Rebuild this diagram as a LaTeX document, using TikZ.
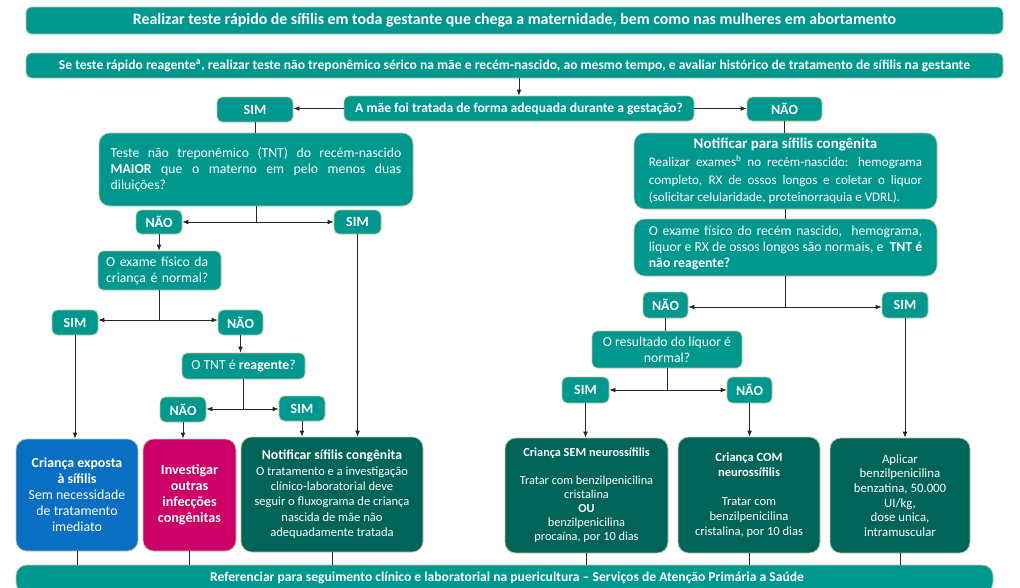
\documentclass[tikz,border=0pt]{standalone}
\usepackage{fontspec}
\setmainfont{Carlito}
\usetikzlibrary{arrows.meta}
\definecolor{teal1}{HTML}{00978F}
\definecolor{dkgreen}{HTML}{006459}
\definecolor{blue1}{HTML}{0A6FC2}
\definecolor{mag1}{HTML}{CC0066}
\definecolor{bord}{HTML}{B8CC96}
\begin{document}
\begin{tikzpicture}[x=0.75pt,y=-0.75pt,
  tbox/.style={fill=teal1, draw=bord, line width=0.6pt, rounded corners=4pt, text=white, inner sep=0pt, align=center},
  corners/.style n args={4}{minimum width={(#3-#1)*0.75pt}, minimum height={(#4-#2)*0.75pt}, at={({(#1+#3)/2},{(#2+#4)/2})}},
  big/.style={rounded corners=8pt},
  small/.style={font=\bfseries\fontsize{10.5}{12}\selectfont},
  body/.style={font=\fontsize{10.3}{12}\selectfont},
  ln/.style={draw=black!85, line width=0.6pt},
  arr/.style={ln, -{Latex[length=4.5pt,width=3.6pt]}},
]
\useasboundingbox (0,0) rectangle (1020,587);
\clip (0,0) rectangle (1020,587);

% top
\node[tbox, corners={26}{7}{1003}{34}, font=\bfseries\fontsize{11.9}{13}\selectfont] (t1) {Realizar teste rápido de sífilis em toda gestante que chega a maternidade, bem como nas mulheres em abortamento};
\node[tbox, corners={26}{53}{1003}{78}, font=\bfseries\fontsize{10.2}{12}\selectfont] (t2) {Se teste rápido reagente\textsuperscript{a}, realizar teste não treponêmico sérico na mãe e recém-nascido, ao mesmo tempo, e avaliar histórico de tratamento de sífilis na gestante};
\node[tbox, corners={344}{96}{694}{121}, font=\bfseries\fontsize{10.2}{12}\selectfont] (q) {A mãe foi tratada de forma adequada durante a gestação?};
\node[tbox, small, corners={217}{97}{293}{122}] (sim1) {SIM};
\node[tbox, small, corners={747}{97}{822}{121}] (nao1) {NÃO};

% left branch
\node[tbox, big, body, corners={99}{133}{413}{206}, text width=218pt, align=justify] (tnt1) {Teste não treponêmico (TNT) do recém-nascido\linebreak \textbf{MAIOR} que o materno em pelo menos duas\linebreak diluições?};
\node[tbox, small, corners={136}{210}{182}{234}] (nao2) {NÃO};
\node[tbox, small, corners={334}{210}{381}{234}] (sim2) {SIM};
\node[tbox, body, corners={98}{251}{221}{290}, text width=80pt, align=left] (ex1) {O exame físico da\\criança é normal?};
\node[tbox, small, corners={52}{310}{98}{335}] (sim3) {SIM};
\node[tbox, small, corners={218}{310}{263}{335}] (nao3) {NÃO};
\node[tbox, body, corners={182}{353}{305}{379}] (tnt2) {O TNT é \textbf{reagente}?};
\node[tbox, small, corners={160}{397}{206}{422}] (nao4) {NÃO};
\node[tbox, small, corners={279}{396}{325}{421}] (sim4) {SIM};

\node[tbox, big, fill=blue1, font=\fontsize{10.4}{12}\selectfont, corners={16}{439}{138}{551}] (blue) {\textbf{Criança exposta}\\\textbf{à sífilis}\\Sem necessidade\\de tratamento\\imediato};
\node[tbox, big, fill=mag1, font=\bfseries\fontsize{10.6}{12}\selectfont, corners={143}{439}{236}{551}] (mag) {Investigar\\outras\\infecções\\congênitas};
\node[tbox, big, fill=dkgreen, font=\fontsize{9.4}{11.5}\selectfont, corners={241}{437}{423}{552}] (notif) {{\fontsize{10.3}{11.5}\selectfont\textbf{Notificar sífilis congênita}}\\O tratamento e a investigação\\clínico-laboratorial deve\\seguir o fluxograma de criança\\nascida de mãe não\\adequadamente tratada};

% right branch
\node[tbox, big, corners={634}{133}{937}{209}, text width=205pt, align=justify, font=\fontsize{9.8}{13.2}\selectfont] (not2) {\makebox[\linewidth][c]{\fontsize{11.2}{12}\selectfont\textbf{Notificar para sífilis congênita}}\par Realizar exames\textsuperscript{b} no recém-nascido: hemograma\linebreak completo, RX de ossos longos e coletar o liquor\linebreak (solicitar celularidade, proteinorraquia e VDRL).};
\node[tbox, big, body, corners={634}{219}{937}{276}, text width=205pt, align=justify] (exr) {O exame físico do recém nascido,\ \ hemograma,\linebreak liquor e RX de ossos longos são normais, e\ \ \textbf{TNT é}\linebreak \textbf{não reagente?}};
\node[tbox, small, corners={643}{292}{688}{318}] (nao5) {NÃO};
\node[tbox, small, corners={882}{292}{928}{318}] (sim5) {SIM};
\node[tbox, body, corners={592}{331}{742}{368}] (liq) {O resultado do líquor é\\normal?};
\node[tbox, small, corners={562}{377}{609}{403}] (sim6) {SIM};
\node[tbox, small, corners={727}{377}{772}{403}] (nao6) {NÃO};

\node[tbox, big, fill=dkgreen, font=\fontsize{9.2}{10.5}\selectfont, corners={505}{438}{668}{553}] (sem) {\textbf{Criança SEM neurossífilis}\\[10.5pt]Tratar com benzilpenicilina\\cristalina\\\textbf{OU}\\benzilpenicilina\\procaína, por 10 dias};
\node[tbox, big, fill=dkgreen, font=\fontsize{9.4}{11}\selectfont, corners={678}{437}{820}{553}] (com) {\textbf{Criança COM}\\\textbf{neurossífilis}\\[11pt]Tratar com\\benzilpenicilina\\cristalina, por 10 dias};
\node[tbox, big, fill=dkgreen, font=\fontsize{9.6}{11}\selectfont, corners={830}{438}{970}{553}] (apl) {Aplicar\\benzilpenicilina\\benzatina, 50.000\\UI/kg,\\dose unica,\\intramuscular};

% bottom bar
\node[tbox, big, corners={16}{565}{993}{593}] (bar) {};
\node[text=white, font=\bfseries\fontsize{10.2}{12}\selectfont, inner sep=0pt] (bartxt) at (507,578) {Referenciar para seguimento clínico e laboratorial na puericultura – Serviços de Atenção Primária a Saúde};

% connectors
\draw[arr] (t2.south -| q.north) -- (q.north);
\draw[arr] (q.west) -- (q.west -| sim1.east);
\draw[arr] (q.east) -- (q.east -| nao1.west);
\draw[ln] (sim1.south) -- (sim1.south |- tnt1.north);
\coordinate (b1) at (tnt1.south |- nao2.east);
\draw[ln] (tnt1.south) -- (b1);
\draw[arr] (b1) -- (nao2.east);
\draw[arr] (b1) -- (sim2.west |- b1);
\draw[arr] (nao2.south) -- (nao2.south |- ex1.north);
\draw[arr] (sim2.south) -- (sim2.south |- notif.north);
\coordinate (b2) at (ex1.south |- 0,320);
\draw[ln] (ex1.south) -- (b2);
\draw[arr] (b2) -- (sim3.east |- b2);
\draw[arr] (b2) -- (nao3.west |- b2);
\draw[arr] (sim3.south) -- (sim3.south |- blue.north);
\draw[arr] (nao3.south) -- (nao3.south |- tnt2.north);
\coordinate (b3) at (tnt2.south |- 0,409);
\draw[ln] (tnt2.south) -- (b3);
\draw[arr] (b3) -- (nao4.east |- b3);
\draw[arr] (b3) -- (sim4.west |- b3);
\draw[arr] (nao4.south) -- (nao4.south |- mag.north);
\draw[arr] (sim4.south) -- (sim4.south |- notif.north);
\draw[ln] (blue.south) -- (blue.south |- bar.north);
\draw[ln] (mag.south) -- (mag.south |- bar.north);
\draw[ln] (notif.south) -- (notif.south |- bar.north);

\draw[ln] (nao1.south) -- (nao1.south |- not2.north);
\draw[ln] (not2.south) -- (not2.south |- exr.north);
\coordinate (b4) at (exr.south |- 0,307);
\draw[ln] (exr.south) -- (b4);
\draw[arr] (b4) -- (nao5.east |- b4);
\draw[arr] (b4) -- (sim5.west |- b4);
\draw[ln] (nao5.south) -- (nao5.south |- liq.north);
\coordinate (b5) at (liq.south |- 0,390);
\draw[ln] (liq.south) -- (b5);
\draw[arr] (b5) -- (sim6.east |- b5);
\draw[arr] (b5) -- (nao6.west |- b5);
\draw[arr] (sim6.south) -- (sim6.south |- sem.north);
\draw[arr] (nao6.south) -- (nao6.south |- com.north);
\draw[arr] (sim5.south) -- (sim5.south |- apl.north);
\draw[ln] (sem.south) -- (sem.south |- bar.north);
\draw[ln] (com.south) -- (com.south |- bar.north);
\draw[ln] (apl.south) -- (apl.south |- bar.north);
\end{tikzpicture}
\end{document}
